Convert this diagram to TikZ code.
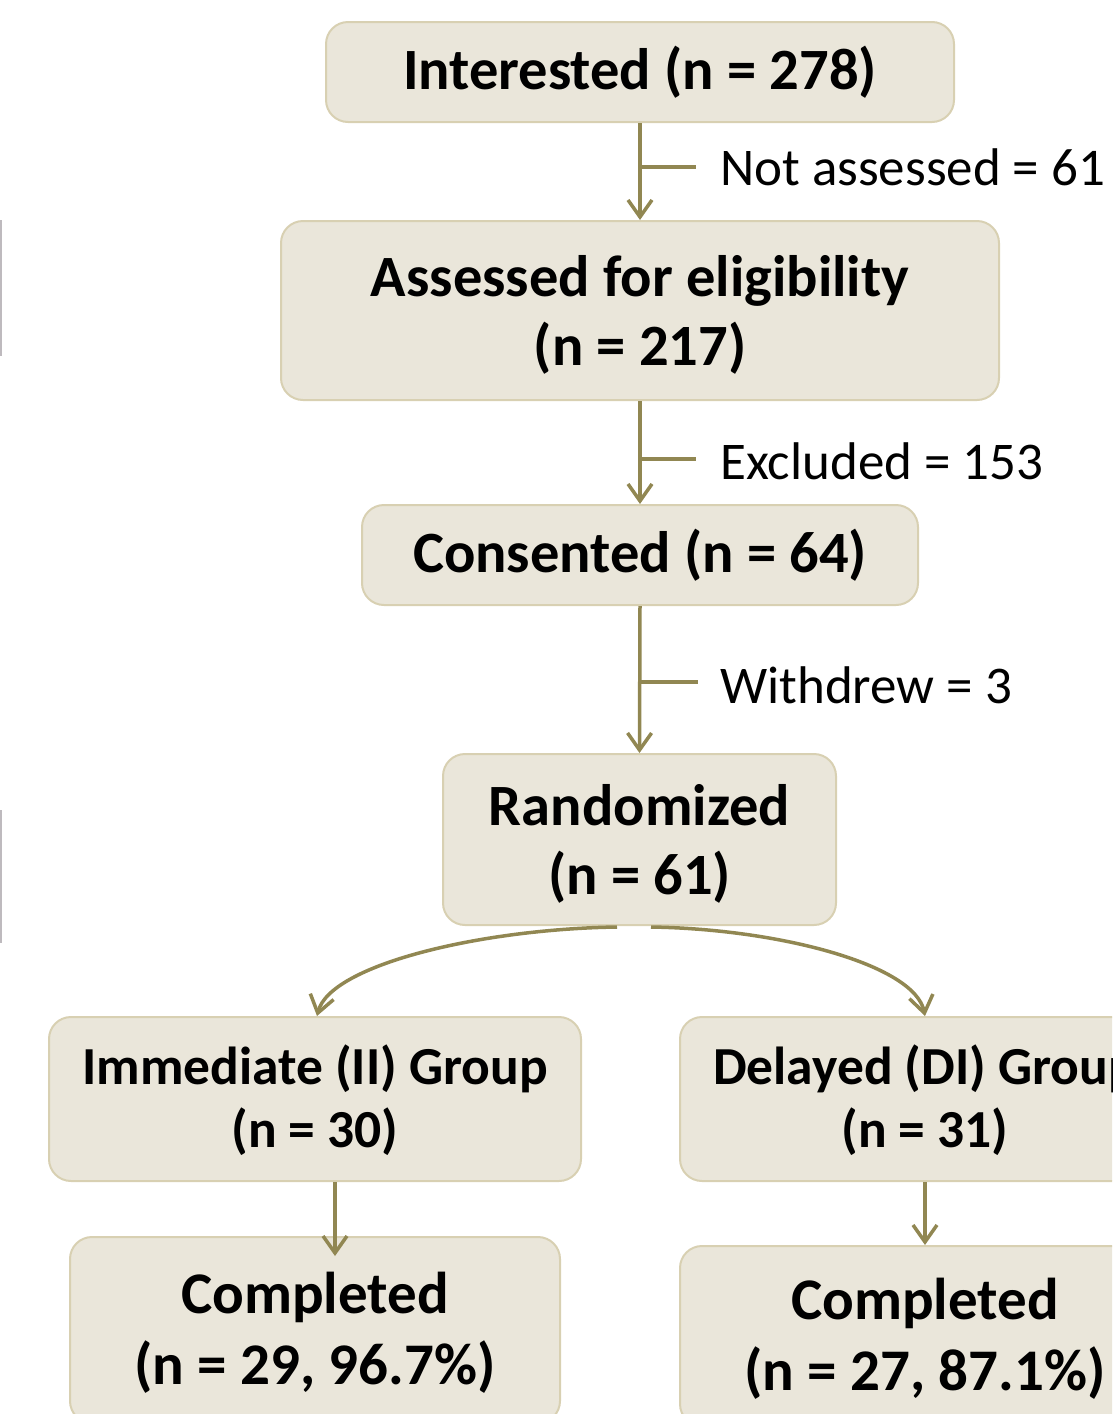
\documentclass[tikz,border=0pt]{standalone}
\usepackage{fontspec}
\setmainfont{Carlito}
\usetikzlibrary{arrows.meta}
\definecolor{boxfill}{RGB}{234,230,218}
\definecolor{boxline}{RGB}{216,208,178}
\definecolor{olive}{RGB}{145,135,82}
\definecolor{edgegray}{RGB}{190,186,190}
\tikzset{
  flowbox/.style={draw=boxline, line width=2pt, fill=boxfill, rounded corners=22pt,
    align=center, inner sep=0pt, text depth=0pt, font=\bfseries\fontsize{58.5}{69}\selectfont},
  onebox/.style={flowbox, text depth=8pt},
  groupbox/.style={flowbox, text depth=5pt, font=\bfseries\fontsize{53.5}{63}\selectfont},
  donebox/.style={flowbox, text depth=4pt, font=\bfseries\fontsize{59}{71}\selectfont},
  sidelabel/.style={anchor=west, inner sep=0pt, font=\fontsize{53}{60}\selectfont},
  conn/.style={draw=olive, line width=3.5pt, -{Straight Barb[length=17pt,width=24pt,line width=3.5pt]}},
  tick/.style={draw=olive, line width=3.5pt},
}
\begin{document}
\begin{tikzpicture}[x=1pt,y=-1pt]
\useasboundingbox (0,0) rectangle (1112,1414);
\clip (0,0) rectangle (1112,1414);

% left edge marks
\draw[edgegray, line width=2pt] (1,220) -- (1,356);
\draw[edgegray, line width=2pt] (1,810) -- (1,943);

% boxes
\node[onebox, minimum width=628pt, minimum height=100pt] (interested) at (640,72) {Interested (n = 278)};
\node[flowbox, minimum width=718pt, minimum height=179pt] (assessed) at (640,310.5) {Assessed for eligibility\\(n = 217)};
\node[onebox, minimum width=556pt, minimum height=100pt] (consented) at (640,555) {Consented (n = 64)};
\node[flowbox, minimum width=393pt, minimum height=171pt] (random) at (639.5,839.5) {Randomized\\(n = 61)};
\node[groupbox, minimum width=532pt, minimum height=164pt] (immediate) at (315,1099) {Immediate (II) Group\\(n = 30)};
\node[groupbox, minimum width=490pt, minimum height=164pt] (delayed) at (925,1099) {Delayed (DI) Group\\(n = 31)};
\node[donebox, minimum width=490pt, minimum height=186pt] (doneI) at (315,1330) {Completed\\(n = 29, 96.7\%)};
\node[donebox, minimum width=490pt, minimum height=180pt] (doneD) at (925,1336) {Completed\\(n = 27, 87.1\%)};

% vertical connectors with side ticks
\draw[conn] (interested.south) -- (assessed.north);
\coordinate (t1) at (696,167);
\draw[tick] (638,167) -- (t1);
\node[sidelabel] (lab1) at (720,167) {Not assessed = 61};

\draw[conn] (assessed.south) -- (consented.north);
\coordinate (t2) at (696,459);
\draw[tick] (638,459) -- (t2);
\node[sidelabel] (lab2) at (720,461) {Excluded = 153};

\draw[conn] (consented.south) -- (random.north);
\coordinate (t3) at (698,682);
\draw[tick] (638,682) -- (t3);
\node[sidelabel] (lab3) at (720,685) {Withdrew = 3};

% split curves
\coordinate (sL) at (617,927);
\coordinate (sR) at (651,927);
\draw[conn] (sL) .. controls (480,929) and (330,965) .. (immediate.north -| 317,0);
\draw[conn] (sR) .. controls (780,929) and (915,965) .. (delayed.north);

% group to completed
\coordinate (aI) at (335,1256);
\draw[conn] (immediate.south -| aI) -- (aI);
\draw[conn] (delayed.south) -- (doneD.north);
\end{tikzpicture}
\end{document}
